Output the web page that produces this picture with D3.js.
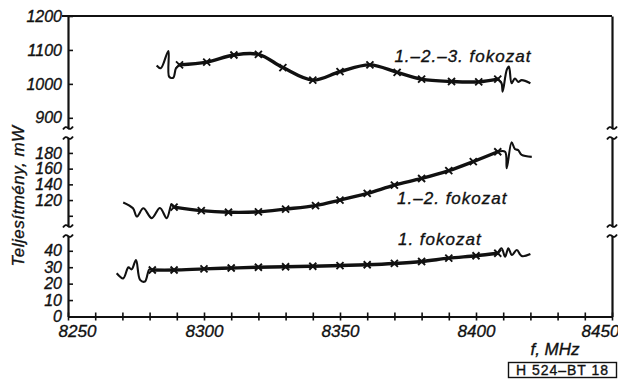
<!DOCTYPE html>
<html>
<head>
<meta charset="utf-8">
<script src="https://cdn.jsdelivr.net/npm/d3@7"></script>
<style>
    body { margin: 0; background: #fff; }
    svg { display: block; font-family: "Liberation Sans", Arial, sans-serif; font-style: italic; }
    svg text { stroke: #111; stroke-width: 0.35px; }
</style>
</head>
<body>
<div id="chart"></div>
<script>
"use strict";

// Axis ticks (MHz and mW); the y axis is broken into three bands
var freqLabels = [8250, 8300, 8350, 8400, 8450];
var highTicks = [900, 1000, 1100, 1200];
var midTicks = [100, 120, 140, 160, 180];
var midLabels = [120, 140, 160, 180];
var lowTicks = [0, 10, 20, 30, 40];

// 1.-2.-3. fokozat (measured points, marked with x)
var stage3Freq = [8291, 8301, 8311, 8320, 8329, 8340, 8350, 8361, 8371, 8380, 8391, 8401, 8408];
var stage3Power = [1056, 1064, 1085, 1087, 1048, 1011, 1036, 1056, 1034, 1014, 1007, 1006, 1014];
// oscillating edges of the band
var stage3LeftFreq = [8282.6, 8284.1, 8286.9, 8287.2, 8288.7, 8289.7, 8291];
var stage3LeftPower = [1054, 1046, 1097, 1021, 1018, 1046, 1056];
var stage3RightFreq = [8408, 8409.4, 8409.8, 8411.3, 8412.1, 8413.1, 8414.3, 8415.5, 8416.8, 8420];
var stage3RightPower = [1014, 1002, 977, 1041, 1051, 1002, 1016, 1006, 1011, 1002];

// 1.-2. fokozat
var stage2Freq = [8289, 8299, 8309, 8320, 8330, 8341, 8350, 8360, 8370, 8380, 8390, 8399, 8408];
var stage2Power = [111, 106.5, 104.5, 105, 108.5, 113, 120, 128.5, 139, 147.5, 157.5, 169, 181.5];
var stage2LeftFreq = [8270.3, 8273.9, 8275.3, 8277.7, 8280.8, 8283.8, 8286.3, 8288.1, 8289];
var stage2LeftPower = [117, 109.5, 99, 109.5, 97, 110, 97, 114.5, 111];
var stage2RightFreq = [8408, 8410.7, 8411.3, 8413.1, 8414.3, 8415.5, 8416.8, 8420.5];
var stage2RightPower = [181.5, 181.5, 160.5, 193.5, 185, 183.5, 177.5, 175];

// 1. fokozat
var stage1Freq = [8281, 8289, 8300, 8310, 8320, 8330, 8340, 8350, 8360, 8370, 8380, 8390, 8400, 8408];
var stage1Power = [28.3, 28.3, 29, 29.5, 30, 30.3, 30.6, 31, 31.5, 32.3, 33.5, 35.5, 37, 38.5];
var stage1LeftFreq = [8267.9, 8270.3, 8272.2, 8273.4, 8275, 8276.5, 8278.3, 8279.9, 8281];
var stage1LeftPower = [26.3, 23.2, 29.9, 28.7, 34.4, 22.3, 21.3, 28.7, 28.3];
var stage1RightFreq = [8408, 8409.4, 8410.7, 8411.9, 8413.2, 8415, 8416.8, 8420];
var stage1RightPower = [38.5, 41.5, 36.4, 41.5, 37.4, 40.5, 36.8, 38];

var seriesLabels = ["1.\u20132.\u20133. fokozat", "1.\u20132. fokozat", "1. fokozat"];

function zip(f, p) {
    return f.map(function (v, i) { return { f: v, p: p[i] }; });
}

var series = [
    { label: seriesLabels[0], band: "high", pts: zip(stage3Freq, stage3Power),
      left: zip(stage3LeftFreq, stage3LeftPower), right: zip(stage3RightFreq, stage3RightPower),
      at: { f: 8370, p: 1064 } },
    { label: seriesLabels[1], band: "mid", pts: zip(stage2Freq, stage2Power),
      left: zip(stage2LeftFreq, stage2LeftPower), right: zip(stage2RightFreq, stage2RightPower),
      at: { f: 8371, p: 115 } },
    { label: seriesLabels[2], band: "low", pts: zip(stage1Freq, stage1Power),
      left: zip(stage1LeftFreq, stage1LeftPower), right: zip(stage1RightFreq, stage1RightPower),
      at: { f: 8371.3, p: 43.5 } }
];

var width = 618, height = 381;
var ink = "#111";

var svg = d3.select("#chart").append("svg")
    .attr("width", width)
    .attr("height", height);

var x = d3.scaleLinear().domain([8250, 8450]).range([68, 612]);
var bands = {
    high: d3.scaleLinear().domain([870, 1200]).range([128, 16]),
    mid: d3.scaleLinear().domain([87, 199]).range([226, 138]),
    low: d3.scaleLinear().domain([0, 49]).range([316.5, 236])
};

function styleAxis(g, size) {
    g.attr("font-family", null).attr("font-size", size);
    g.selectAll(".domain").attr("stroke", ink).attr("stroke-width", 2.2);
    g.selectAll(".tick line").attr("stroke", ink).attr("stroke-width", 1.6);
    g.selectAll(".tick text").attr("fill", ink);
}

// x axis, ticks every 10 MHz crossing the line
var xAxis = d3.axisBottom(x)
    .tickValues(d3.range(8250, 8451, 10))
    .tickSize(4)
    .tickSizeOuter(0)
    .tickPadding(4)
    .tickFormat(function (d) { return freqLabels.indexOf(d) >= 0 ? d : ""; });
var gx = svg.append("g")
    .attr("transform", "translate(0," + bands.low.range()[0] + ")")
    .call(xAxis);
styleAxis(gx, 17);
gx.selectAll(".tick line").attr("y1", -4);
gx.selectAll(".tick text")
    .attr("dx", function (d) { return d === 8250 ? 9 : d === 8450 ? -12 : 0; });

// broken y axis, one piece per band, ticks pointing inward
var bandTicks = { high: highTicks, mid: midTicks, low: lowTicks };
Object.keys(bands).forEach(function (key) {
    var ax = d3.axisLeft(bands[key])
        .tickValues(bandTicks[key])
        .tickSize(-5)
        .tickSizeOuter(0)
        .tickPadding(6)
        .tickFormat(function (d) {
            return key === "mid" && midLabels.indexOf(d) < 0 ? "" : d;
        });
    var g = svg.append("g")
        .attr("transform", "translate(" + x.range()[0] + ",0)")
        .call(ax);
    styleAxis(g, 16);

    var right = svg.append("g")
        .attr("transform", "translate(" + x.range()[1] + ",0)")
        .call(d3.axisRight(bands[key]).tickValues([]).tickSizeOuter(0));
    styleAxis(right, 10);
});

// top frame line (1200 mW)
svg.append("line")
    .attr("x1", x.range()[0] - 6)
    .attr("x2", x.range()[1])
    .attr("y1", bands.high(1200))
    .attr("y2", bands.high(1200))
    .attr("stroke", ink)
    .attr("stroke-width", 2.2);

// break marks at both ends of each gap
function tilde(cx, cy) {
    return "M" + (cx - 5) + "," + (cy + 1.5) +
        " q2.5,-4 5,-1.5 t5,-1.5";
}
var breakYs = [bands.high.range()[0], bands.mid.range()[1], bands.mid.range()[0], bands.low.range()[1]];
x.range().forEach(function (xx) {
    breakYs.forEach(function (yy) {
        svg.append("path")
            .attr("d", tilde(xx, yy))
            .attr("fill", "none")
            .attr("stroke", ink)
            .attr("stroke-width", 1.8);
    });
});

// curves
series.forEach(function (s) {
    var y = bands[s.band];
    var line = d3.line()
        .x(function (d) { return x(d.f); })
        .y(function (d) { return y(d.p); })
        .curve(d3.curveCatmullRom.alpha(0.5));

    var g = svg.append("g");
    [s.left, s.right].forEach(function (pts) {
        g.append("path")
            .attr("d", line(pts))
            .attr("fill", "none")
            .attr("stroke", ink)
            .attr("stroke-width", 2.1)
            .attr("stroke-linejoin", "round");
    });
    g.append("path")
        .attr("d", line(s.pts))
        .attr("fill", "none")
        .attr("stroke", ink)
        .attr("stroke-width", 3.4)
        .attr("stroke-linecap", "round");

    g.selectAll("path.mark")
        .data(s.pts)
        .enter()
        .append("path")
        .classed("mark", true)
        .attr("d", function (d) {
            var cx = x(d.f), cy = y(d.p), r = 3.5;
            return "M" + (cx - r) + "," + (cy - r) + "L" + (cx + r) + "," + (cy + r) +
                "M" + (cx - r) + "," + (cy + r) + "L" + (cx + r) + "," + (cy - r);
        })
        .attr("stroke", ink)
        .attr("stroke-width", 1.9);

    g.append("text")
        .attr("x", x(s.at.f))
        .attr("y", y(s.at.p))
        .attr("font-size", 17)
        .attr("letter-spacing", 1)
        .attr("fill", ink)
        .text(s.label);
});

// axis titles
svg.append("text")
    .attr("transform", "translate(24," + 196 + ") rotate(-90)")
    .attr("text-anchor", "middle")
    .attr("font-size", 17)
    .attr("letter-spacing", 0.5)
    .attr("fill", ink)
    .text("Teljesítmény, mW");

svg.append("text")
    .attr("x", 555)
    .attr("y", 355)
    .attr("text-anchor", "middle")
    .attr("font-size", 17)
    .attr("fill", ink)
    .text("f, MHz");

// drawing number box
svg.append("rect")
    .attr("x", 508.5)
    .attr("y", 362.5)
    .attr("width", 108)
    .attr("height", 15)
    .attr("fill", "none")
    .attr("stroke", ink)
    .attr("stroke-width", 1.4);
svg.append("text")
    .attr("x", 562.5)
    .attr("y", 375)
    .attr("text-anchor", "middle")
    .attr("font-size", 14)
    .attr("font-style", "normal")
    .attr("letter-spacing", 1)
    .attr("fill", ink)
    .text("H 524\u2013BT 18");
</script>
</body>
</html>
